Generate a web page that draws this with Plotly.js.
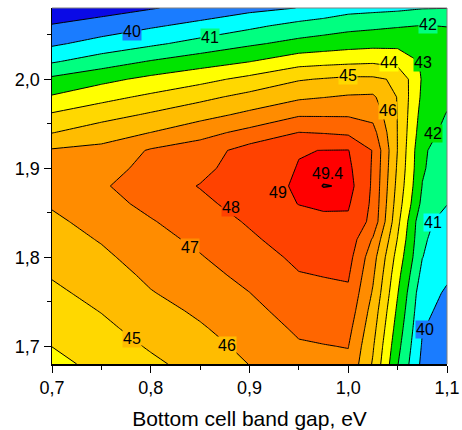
<!DOCTYPE html>
<html>
<head>
<meta charset="utf-8">
<script src="https://cdn.plot.ly/plotly-3.0.1.min.js"></script>
<style>html,body{margin:0;padding:0;background:#fff;}#chart{width:462px;height:430px;}</style>
</head>
<body>
<div id="chart"></div>
<script>
// Bottom cell band gap (eV) — grid columns
const bottomGap = [0.70, 0.75, 0.80, 0.85, 0.90, 0.95, 0.975, 1.00, 1.025, 1.05, 1.075, 1.10];
// Top cell band gap (eV) — grid rows, listed from top (2.08) to bottom (1.68)
const topGap = [2.08, 2.06, 2.04, 2.02, 2.00, 1.98, 1.96, 1.94, 1.92, 1.90, 1.88, 1.86, 1.84, 1.82, 1.80, 1.78, 1.76, 1.74, 1.72, 1.70, 1.68];

// Efficiency (%) per bottom-gap column, top row first
const eff070  = [38.3, 39.07, 39.84, 40.89, 42.2, 43.1, 44.12, 44.97, 46.1, 46.5, 46.6, 46.1, 45.81, 45.57, 45.32, 45.07, 44.81, 44.54, 44.28, 44.01, 43.75];
const eff075  = [38.57, 39.44, 40.35, 41.49, 42.72, 43.7, 44.6, 45.56, 46.25, 46.6, 46.9, 46.65, 46.35, 46.07, 45.81, 45.55, 45.3, 45.04, 44.78, 44.51, 44.25];
const eff080  = [38.93, 39.87, 40.82, 42.06, 43.25, 44.19, 45.13, 46.01, 47.1, 47.3, 47.45, 47.25, 46.93, 46.68, 46.44, 46.19, 45.95, 45.66, 45.38, 45.1, 44.81];
const eff085  = [39.32, 40.29, 41.33, 42.54, 43.69, 44.74, 45.65, 46.65, 47.5, 47.7, 48.05, 47.75, 47.5, 47.2, 46.94, 46.68, 46.42, 46.16, 45.9, 45.63, 45.36];
const eff090  = [39.72, 40.78, 41.85, 42.97, 44.27, 45.3, 46.23, 47.3, 48.4, 48.6, 48.7, 48.45, 48.1, 47.85, 47.55, 47.27, 46.99, 46.73, 46.48, 46.25, 46.02];
const eff095  = [40.02, 41.32, 42.29, 43.6, 44.92, 45.83, 46.9, 48.02, 48.97, 49.03, 49.08, 49.02, 48.7, 48.45, 48.2, 47.95, 47.7, 47.42, 47.15, 46.9, 46.65];
const eff0975 = [40.3, 41.5, 42.45, 43.7, 45.06, 45.97, 46.9, 47.95, 49.01, 49.22, 49.42, 49.15, 48.8, 48.53, 48.28, 48.03, 47.78, 47.51, 47.23, 46.97, 46.73];
const eff100  = [40.63, 41.69, 42.61, 43.78, 45.2, 46.1, 46.9, 47.83, 49.03, 49.2, 49.36, 49.1, 48.85, 48.6, 48.35, 48.1, 47.85, 47.6, 47.3, 47.03, 46.8];
const eff1025 = [40.72, 41.8, 42.7, 43.85, 45.18, 46.15, 46.7, 47.35, 47.95, 47.9, 47.85, 47.8, 47.7, 46.9, 46.4, 46.15, 45.9, 45.6, 45.35, 45.1, 44.9];
const eff105  = [40.8, 41.92, 42.75, 43.64, 44.85, 44.95, 44.97, 44.97, 44.97, 44.85, 44.7, 44.5, 44.25, 43.95, 43.6, 43.3, 43.05, 42.8, 42.55, 42.3, 42.05];
const eff1075 = [40.95, 42.02, 42.5, 42.9, 42.9, 42.8, 42.6, 42.4, 42.13, 42.1, 41.97, 41.73, 41.2, 41.12, 41.02, 40.7, 40.35, 40.2, 40.05, 39.9, 39.75];
const eff110  = [40.98, 41.98, 42.3, 42.45, 42.4, 42.2, 41.95, 41.75, 41.55, 41.4, 41.2, 41.02, 40.75, 40.55, 40.35, 40.12, 39.9, 39.75, 39.6, 39.45, 39.3];

// Contour levels and band colours (band below 39, 39-40, ..., above 49)
const levelStart = 39, levelEnd = 49, levelStep = 1;
const peakLevel = 49.4;
const bandColors = ['#0a0ae6', '#1a7cff', '#00ffff', '#00ff80', '#00e400', '#ffff00',
                    '#ffd800', '#ffbc00', '#ff8c00', '#ff6600', '#ff4200', '#ff0000'];

// Contour label texts
const labelTexts = ['40', '41', '42', '43', '44', '45', '46', '42', '49.4', '49', '48', '47', '41', '46', '45', '40'];
// label placement (data coords)
const labelPosX = [0.781, 0.860, 1.081, 1.076, 1.041, 1.000, 1.040, 1.086, 0.979, 0.929, 0.881, 0.840, 1.086, 0.877, 0.781, 1.078];
const labelPosY = [2.054, 2.047, 2.061, 2.019, 2.019, 2.004, 1.965, 1.939, 1.894, 1.873, 1.856, 1.811, 1.839, 1.701, 1.709, 1.719];

// ---- build grid (rows ascending in y) ----
const columns = [eff070, eff075, eff080, eff085, eff090, eff095, eff0975, eff100, eff1025, eff105, eff1075, eff110];
const yAsc = topGap.slice().reverse();
const z = yAsc.map((yv, i) => {
  const r = topGap.length - 1 - i;
  return columns.map(col => col[r]);
});

const nBands = bandColors.length;
const colorscale = bandColors.map((c, k) => [k / (nBands - 1), c]);

// value of the gridded data at a point (bilinear), used to pick the label backdrop band
function sampleZ(px, py) {
  let i = 0; while (i < bottomGap.length - 2 && px > bottomGap[i + 1]) i++;
  let j = 0; while (j < yAsc.length - 2 && py > yAsc[j + 1]) j++;
  const tx = (px - bottomGap[i]) / (bottomGap[i + 1] - bottomGap[i]);
  const ty = (py - yAsc[j]) / (yAsc[j + 1] - yAsc[j]);
  const a = z[j][i], b = z[j][i + 1], c = z[j + 1][i], d = z[j + 1][i + 1];
  return (a * (1 - tx) + b * tx) * (1 - ty) + (c * (1 - tx) + d * tx) * ty;
}
function bandColorAt(v) {
  let k = v < levelStart ? 0 : Math.min(nBands - 1, Math.floor((v - levelStart) / levelStep) + 1);
  if (v >= peakLevel) k = nBands - 1;
  return bandColors[k];
}

const fontFam = '"Liberation Sans", Arial, Helvetica, sans-serif';

const traces = [
  {
    type: 'contour', x: bottomGap, y: yAsc, z: z,
    autocontour: false,
    contours: { start: levelStart, end: levelEnd, size: levelStep, coloring: 'fill', showlines: true },
    colorscale: colorscale, showscale: false,
    line: { color: '#000', width: 1, smoothing: 0 },
    hoverinfo: 'skip'
  },
  {
    type: 'contour', x: bottomGap, y: yAsc, z: z,
    autocontour: false,
    contours: { start: peakLevel, end: peakLevel, size: 1, coloring: 'none', showlines: true },
    showscale: false,
    line: { color: '#000', width: 1.5, smoothing: 0 },
    hoverinfo: 'skip'
  }
];

const annotations = labelTexts.map((t, i) => ({
  x: labelPosX[i], y: labelPosY[i], xref: 'x', yref: 'y',
  text: t, showarrow: false,
  font: { family: fontFam, size: 16, color: '#000' },
  bgcolor: bandColorAt(sampleZ(labelPosX[i], labelPosY[i])), borderpad: 0
}));

const layout = {
  width: 462, height: 430,
  margin: { l: 52, r: 15, t: 8, b: 66, pad: 0 },
  separators: ', ',
  paper_bgcolor: '#fff', plot_bgcolor: '#fff',
  font: { family: fontFam, size: 18, color: '#000' },
  showlegend: false,
  xaxis: {
    range: [0.7, 1.1], tick0: 0.7, dtick: 0.1, tickformat: '.1f',
    ticks: 'outside', ticklen: 7, tickwidth: 1, tickcolor: '#000',
    showline: true, linecolor: '#000', linewidth: 1.5, mirror: false,
    showgrid: false, zeroline: false, automargin: false,
    minor: { dtick: 0.05, tick0: 0.7, ticks: 'outside', ticklen: 4, tickwidth: 1, tickcolor: '#000', showgrid: false },
    tickfont: { family: fontFam, size: 18 },
    title: { text: 'Bottom cell band gap, eV', font: { family: fontFam, size: 21 }, standoff: 16 }
  },
  yaxis: {
    range: [1.68, 2.08], tick0: 1.7, dtick: 0.1, tickformat: '.1f',
    ticks: 'outside', ticklen: 7, tickwidth: 1, tickcolor: '#000',
    showline: true, linecolor: '#000', linewidth: 1.5, mirror: false,
    showgrid: false, zeroline: false, automargin: false,
    minor: { dtick: 0.05, tick0: 1.7, ticks: 'outside', ticklen: 4, tickwidth: 1, tickcolor: '#000', showgrid: false },
    tickfont: { family: fontFam, size: 18 }
  },
  shapes: [
    { type: 'line', xref: 'paper', yref: 'paper', x0: 0, x1: 1, y0: 1, y1: 1, line: { color: '#7f7f7f', width: 1 }, layer: 'above' },
    { type: 'line', xref: 'paper', yref: 'paper', x0: 1, x1: 1, y0: 0, y1: 1, line: { color: '#7f7f7f', width: 1 }, layer: 'above' }
  ],
  annotations: annotations
};

Plotly.newPlot('chart', traces, layout, { staticPlot: true, displayModeBar: false });
</script>
</body>
</html>
